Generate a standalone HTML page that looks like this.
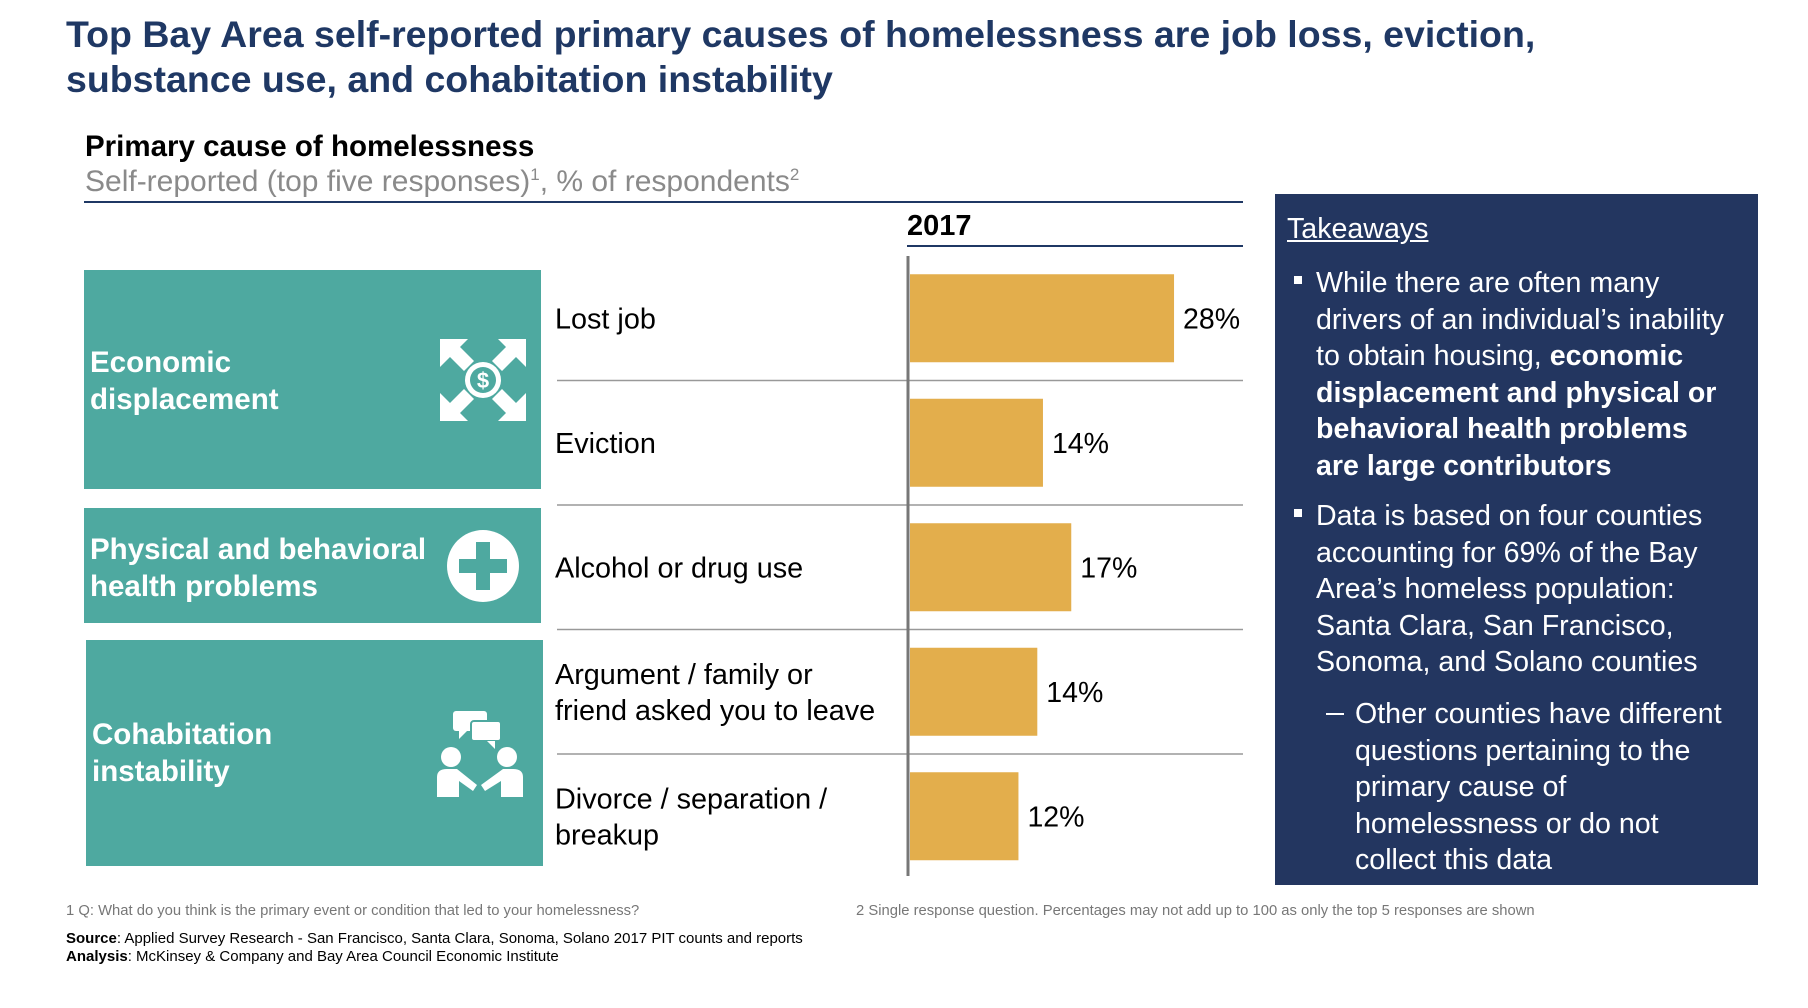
<!DOCTYPE html>
<html><head><meta charset="utf-8"><style>
body{margin:0;width:1808px;height:1008px;background:#fff;position:relative;overflow:hidden;font-family:"Liberation Sans",Arial,sans-serif}
.a{position:absolute;white-space:nowrap}
.title{left:66px;top:12px;font-size:37.5px;font-weight:bold;color:#1f3864;line-height:45px}
.box{position:absolute;background:#4ea9a0}
.bt{position:absolute;color:#fff;font-weight:bold;font-size:29.5px;line-height:37px}
.panel{position:absolute;left:1275px;top:194px;width:483px;height:691px;background:#233660;color:#fff}
.panel p{position:absolute;margin:0;font-size:28.6px;line-height:36.5px;white-space:nowrap}
.sq{position:absolute;width:8px;height:8px;background:#fff}
</style></head><body>
<div class="a title">Top Bay Area self-reported primary causes of homelessness are job loss, eviction,<br>substance use, and cohabitation instability</div>
<div class="a" style="left:85px;top:130px;font-size:29.5px;font-weight:bold;color:#000">Primary cause of homelessness</div>
<div class="a" style="left:85px;top:165px;font-size:30px;color:#8a8a8a">Self-reported (top five responses)<sup style="font-size:17px">1</sup>, % of respondents<sup style="font-size:17px">2</sup></div>
<div class="a" style="left:84px;top:201px;width:1159px;height:2px;background:#1f3864"></div>
<div class="a" style="left:907px;top:210px;font-size:29px;font-weight:bold;color:#000">2017</div>
<div class="a" style="left:907px;top:245px;width:336px;height:2px;background:#1f3864"></div>

<div class="box" style="left:84px;top:270px;width:457px;height:219px"></div>
<div class="bt" style="left:90px;top:344px">Economic<br>displacement</div>
<svg class="a" style="left:438px;top:337px" width="90" height="86" viewBox="0 0 90 86">
<g fill="#fff"><circle cx="45" cy="43" r="18"/>
<polygon points="2,2 30,2 22,10 36,24 26,34 12,20 2,30"/>
<polygon points="88,2 60,2 68,10 54,24 64,34 78,20 88,30"/>
<polygon points="2,84 30,84 22,76 36,62 26,52 12,66 2,56"/>
<polygon points="88,84 60,84 68,76 54,62 64,52 78,66 88,56"/></g>
<circle cx="45" cy="43" r="13" fill="#4ea9a0"/><text x="45" y="51" font-size="22" font-weight="bold" fill="#fff" text-anchor="middle" font-family="Liberation Sans">$</text></svg>

<div class="box" style="left:84px;top:508px;width:457px;height:115px"></div>
<div class="bt" style="left:90px;top:531px">Physical and behavioral<br>health problems</div>
<svg class="a" style="left:447px;top:530px" width="72" height="72"><circle cx="36" cy="36" r="36" fill="#fff"/><rect x="29" y="12" width="14" height="48" fill="#4ea9a0"/><rect x="12" y="29" width="48" height="14" fill="#4ea9a0"/></svg>

<div class="box" style="left:86px;top:640px;width:457px;height:226px"></div>
<div class="bt" style="left:92px;top:716px">Cohabitation<br>instability</div>
<svg class="a" style="left:437px;top:711px" width="86" height="86" viewBox="0 0 86 86">
<g fill="#fff"><rect x="16" y="0" width="34" height="20" rx="3"/><polygon points="22,20 30,20 22,28"/>
<rect x="34" y="10" width="30" height="20" rx="3" stroke="#4ea9a0" stroke-width="2"/><polygon points="50,30 58,30 58,38"/>
<circle cx="14" cy="46" r="10"/><circle cx="70" cy="46" r="10"/>
<path d="M0,86 V66 Q0,58 10,58 H20 L40,74 L36,80 L22,70 V86Z"/>
<path d="M86,86 V66 Q86,58 76,58 H66 L44,74 L48,80 L64,70 V86Z"/></g></svg>

<svg class="a" id="chart" style="left:0;top:0" width="1808" height="1008"></svg>

<div class="panel">
<p style="left:12px;top:17px;text-decoration:underline">Takeaways</p>
<div class="sq" style="left:19px;top:82px"></div>
<p style="left:41px;top:71px">While there are often many<br>drivers of an individual’s inability<br>to obtain housing, <b>economic<br>displacement and physical or<br>behavioral health problems<br>are large contributors</b></p>
<div class="sq" style="left:19px;top:315px"></div>
<p style="left:41px;top:304px">Data is based on four counties<br>accounting for 69% of the Bay<br>Area’s homeless population:<br>Santa Clara, San Francisco,<br>Sonoma, and Solano counties</p>
<div class="sq" style="left:51px;top:519px;width:18px;height:2px"></div>
<p style="left:80px;top:502px">Other counties have different<br>questions pertaining to the<br>primary cause of<br>homelessness or do not<br>collect this data</p>
</div>

<div class="a" style="left:66px;top:903px;font-size:14.8px;color:#777">1 Q: What do you think is the primary event or condition that led to your homelessness?</div>
<div class="a" style="left:856px;top:903px;font-size:14.8px;color:#777">2 Single response question. Percentages may not add up to 100 as only the top 5 responses are shown</div>
<div class="a" style="left:66px;top:930px;font-size:15px;color:#000"><b>Source</b>: Applied Survey Research - San Francisco, Santa Clara, Sonoma, Solano 2017 PIT counts and reports</div>
<div class="a" style="left:66px;top:948px;font-size:15px;color:#000"><b>Analysis</b>: McKinsey &amp; Company and Bay Area Council Economic Institute</div>

<script>
const categories = [["Lost job"],["Eviction"],["Alcohol or drug use"],["Argument / family or","friend asked you to leave"],["Divorce / separation /","breakup"]];
const values = [28,14.1,17.1,13.5,11.5];
const valueLabels = ["28%","14%","17%","14%","12%"];
const NS="http://www.w3.org/2000/svg";
const svg=document.getElementById('chart');
const x0=910, pxPerPct=9.43, rowTop=256, rowH=124.5, barH=88;
const xScale=v=>x0+v*pxPerPct;
const yRow=i=>rowTop+i*rowH;
function mk(t,a){const e=document.createElementNS(NS,t);for(const k in a)e.setAttribute(k,a[k]);svg.appendChild(e);return e;}
values.forEach((v,i)=>{
  const yc=yRow(i)+rowH/2;
  const b=mk('rect',{x:x0,y:yc-barH/2,width:xScale(v)-x0,height:barH,fill:'#e3ae4c'});
  
  
  const t=mk('text',{x:xScale(v)+9,y:yc+10,'font-size':28.5,fill:'#000','font-family':'Liberation Sans, sans-serif'});
  t.textContent=valueLabels[i];
  
  
  const lines=categories[i];
  lines.forEach((ln,j)=>{
    const c=mk('text',{x:555,y:yc+10+(j-(lines.length-1)/2)*36,'font-size':28.8,fill:'#000','font-family':'Liberation Sans, sans-serif'});
    c.textContent=ln;
    
    
  });
  if(i>0){
    const s=mk('line',{x1:557,x2:1243,y1:yRow(i),y2:yRow(i),stroke:'#999','stroke-width':1.5});
    
    
  }
});
const ax=mk('line',{x1:908,x2:908,y1:256,y2:876,stroke:'#777','stroke-width':3});


</script>
</body></html>
